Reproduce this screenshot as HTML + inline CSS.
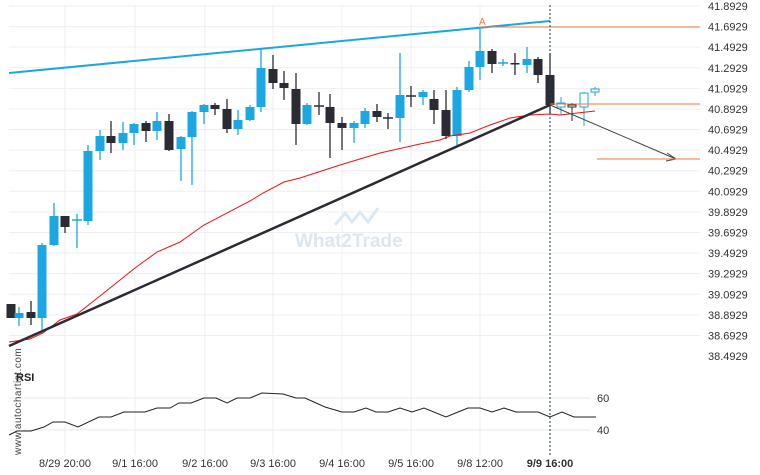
<!DOCTYPE html>
<html><head><meta charset="utf-8"><style>
body{margin:0;background:#fff;}
svg{display:block;font-family:"Liberation Sans",sans-serif;}
</style></head><body>
<svg width="760" height="475" viewBox="0 0 760 475" xmlns="http://www.w3.org/2000/svg">
<g stroke="#efefef" stroke-width="1">
<line x1="65" y1="5" x2="65" y2="455"/><line x1="135" y1="5" x2="135" y2="455"/><line x1="205" y1="5" x2="205" y2="455"/><line x1="273" y1="5" x2="273" y2="455"/><line x1="342" y1="5" x2="342" y2="455"/><line x1="411" y1="5" x2="411" y2="455"/><line x1="480" y1="5" x2="480" y2="455"/>
</g>
<g id="hg" stroke="#efefef" stroke-width="1"></g>
<g id="yl" font-size="11" fill="#333"></g>
<line x1="9" y1="398" x2="590" y2="398" stroke="#e8e8e8"/>
<line x1="9" y1="430" x2="590" y2="430" stroke="#e8e8e8"/>
<text x="597" y="402" font-size="11" fill="#333">60</text>
<text x="597" y="434" font-size="11" fill="#333">40</text>
<text x="295" y="247" font-size="19" font-weight="bold" fill="#dde6ee">What2Trade</text>
<path d="M335 225 L345 213 L352 222 L360 212 L368 222 L378 208" stroke="#dbe9f4" stroke-width="3" fill="none"/>
<g id="c"></g>
<line x1="9" y1="73" x2="550" y2="21" stroke="#1ba7e1" stroke-width="2"/>
<polyline fill="none" stroke="#f01010" stroke-width="1" points="9,342 30,339 43,333 60,320 77,314 100,296 135,268 157,252 180,242 204,225 250,201 263,193 284,182 300,178 340,165 380,153 420,144 440,140 450,136 470,133 490,125 510,118 530,115 550,114 560,115 595,111"/>
<line x1="9" y1="346" x2="550" y2="105" stroke="#2b2b33" stroke-width="2.5"/>
<line x1="550" y1="105" x2="676" y2="159" stroke="#444" stroke-width="1"/>
<polyline points="667,153 676,159 666,161" fill="none" stroke="#444"/>
<line x1="480" y1="27" x2="700" y2="27" stroke="#f07a3a"/>
<line x1="550" y1="104" x2="700" y2="104" stroke="#f07a3a"/>
<line x1="597" y1="159" x2="700" y2="159" stroke="#f07a3a"/>
<text x="479" y="25" font-size="10" fill="#f07a3a">A</text>
<line x1="550" y1="5" x2="550" y2="455" stroke="#1d3b4a" stroke-dasharray="2,2"/>
<polyline fill="none" stroke="#222" stroke-width="1" points="9,435 17,431 31,431 44,427 53,422 65,422 78,427 99,417 111,417 124,412 145,412 157,408 170,408 179,403 191,403 204,398 216,398 227,403 237,398 250,398 262,393 283,394 296,398 305,398 325,407 342,412 354,412 366,408 376,412 388,412 400,408 412,412 424,408 446,417 458,412 468,408 480,408 492,412 504,408 516,412 538,412 550,417 562,412 574,417 596,417"/>
<text x="16" y="381" font-size="11" font-weight="bold" fill="#222">RSI</text>
<text transform="translate(21,455) rotate(-90)" font-size="10" fill="#444" letter-spacing="0.5">www.autochartist.com</text>
<g font-size="11" fill="#333" text-anchor="middle">
<text x="65" y="467">8/29 20:00</text><text x="135" y="467">9/1 16:00</text><text x="205" y="467">9/2 16:00</text><text x="273" y="467">9/3 16:00</text><text x="342" y="467">9/4 16:00</text><text x="411" y="467">9/5 16:00</text><text x="480" y="467">9/8 12:00</text><text x="550" y="467" font-weight="bold">9/9 16:00</text>
</g>
</svg>
<script>
var ns="http://www.w3.org/2000/svg";
function el(p,t,a){var e=document.createElementNS(ns,t);for(var k in a)e.setAttribute(k,a[k]);p.appendChild(e);return e;}
var hg=document.getElementById('hg'),yl=document.getElementById('yl');
for(var i=0;i<18;i++){var y=6+i*20.59;var v=(41.8929-i*0.2).toFixed(4);
if(i<17)el(hg,'line',{x1:9,y1:y,x2:700,y2:y});
var t=el(yl,'text',{x:708,y:y+4});t.textContent=v;}
var C=[[11,'d',304,318,304,318],[19,'b',313,318,307,326],[31,'d',312,318,301,325],[42,'b',245,318,243,330],[54,'b',216,245,203,246],[65,'d',216,227,216,233],[77,'x',220,220,214,248],[88,'b',151,221,145,225],
[100,'b',136,151,130,160],[111,'d',136,143,121,153],[123,'b',133,143,122,150],[134,'b',124,133,123,145],[146,'d',123,131,121,142],[157,'b',121,131,112,140],[169,'d',121,150,114,151],[181,'b',137,149,136,181],[192,'b',112,137,111,185],[204,'b',105,112,104,124],[215,'d',105,109,103,115],[227,'d',109,129,99,133],[238,'b',120,129,110,135],[250,'b',107,120,105,121],[261,'b',68,107,49,112],[273,'d',69,83,55,89],[284,'d',83,88,71,100],[296,'d',89,124,73,145],[307,'b',105,124,103,125],[319,'xd',106,106,92,115],[330,'d',107,123,94,158],[342,'d',123,128,117,150],[354,'b',123,128,121,143],[365,'b',111,124,108,128],[377,'d',111,117,104,122],[388,'xd',118,118,113,129],[400,'b',95,118,53,142],[411,'xd',96,96,86,107],[423,'b',92,97,90,105],[434,'d',99,110,90,124],[446,'d',110,136,90,139],[457,'b',90,136,87,145],[469,'b',67,90,61,92],[480,'b',51,67,27,80],[492,'d',51,64,49,73],[503,'x',63,63,59,66],[515,'d',63,64,53,75],[527,'b',59,65,47,73],[538,'d',59,75,57,83],[550,'d',75,105,53,113]];
var g=document.getElementById('c');
C.forEach(function(c){var x=c[0],col=(c[1]=='b'||c[1]=='x')?'#1ba7e1':'#2b2b33';
el(g,'line',{x1:x,y1:c[4],x2:x,y2:c[5],stroke:col,'stroke-width':1.3});
if(c[1][0]=='x')el(g,'line',{x1:x-5,y1:c[2],x2:x+5,y2:c[2],stroke:col,'stroke-width':1.5});
else el(g,'rect',{x:x-4.5,y:c[2],width:9,height:Math.max(1.5,c[3]-c[2]),fill:col});});
var H=[[561,'#1ba7e1',103,107,97,115],[572,'#2b2b33',105,107,103,121],[584,'#1ba7e1',93,107,92,126],[595,'#1ba7e1',89,92,87,96]];
H.forEach(function(c){el(g,'line',{x1:c[0],y1:c[4],x2:c[0],y2:c[5],stroke:c[1]});
el(g,'rect',{x:c[0]-4,y:c[2],width:8,height:c[3]-c[2],fill:'#fff',stroke:c[1]});});
</script>
</body></html>
